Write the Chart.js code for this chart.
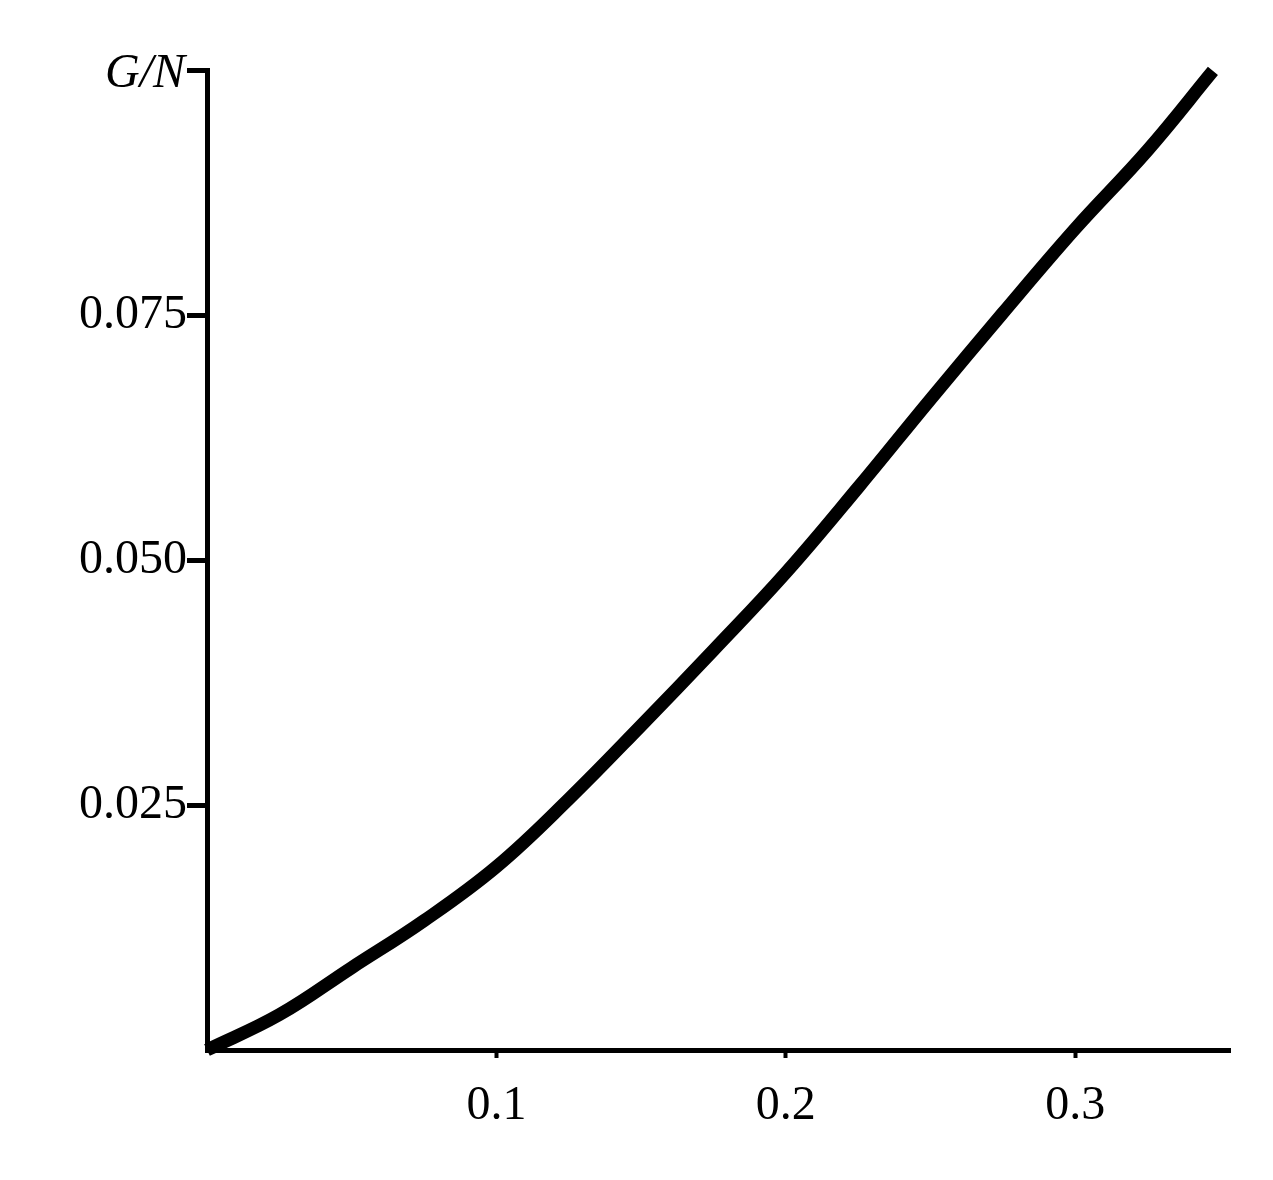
<!DOCTYPE html>
<html>
<head>
<meta charset="utf-8">
<script src="https://cdn.jsdelivr.net/npm/chart.js@4/dist/chart.umd.min.js"></script>
<style>
  html, body { margin: 0; padding: 0; background: #fff; }
</style>
</head>
<body>
<canvas id="chart" width="1273" height="1180"></canvas>
<script>
// curve
const tauValues = [0, 0.025, 0.05, 0.075, 0.1, 0.125, 0.15, 0.175, 0.2, 0.225, 0.25, 0.275, 0.3, 0.325, 0.3476];
const gnValues = [0, 0.0036, 0.0084, 0.0132, 0.0187, 0.0256, 0.0331, 0.0408, 0.0487, 0.0574, 0.0664, 0.0752, 0.0838, 0.0918, 0.0999];
const xTicks = [0.1, 0.2, 0.3];
const yTicks = [0.025, 0.05, 0.075, 0.1];

const points = tauValues.map((t, i) => ({ x: t, y: gnValues[i] }));

const axisLabels = {
    id: 'axisLabels',
    afterDraw(chart) {
        const ctx = chart.ctx;
        const x = chart.scales.x, y = chart.scales.y;
        ctx.save();
        ctx.fillStyle = '#000';
        ctx.font = 'italic 48px "Liberation Serif", serif';
        ctx.textAlign = 'right';
        ctx.textBaseline = 'middle';
        ctx.fillText('G/N', x.left - 22, y.getPixelForValue(0.1) + 4);
        ctx.textAlign = 'center';
        ctx.font = 'italic 58px "Liberation Serif", serif';
        ctx.fillText('τ', x.getPixelForValue(0.35), x.bottom + 50);
        ctx.restore();
    }
};

new Chart(document.getElementById('chart').getContext('2d'), {
    type: 'line',
    data: {
        datasets: [{
            data: points,
            borderColor: '#000',
            borderWidth: 13,
            pointRadius: 0,
            tension: 0.4,
            fill: false,
            clip: false
        }]
    },
    options: {
        responsive: false,
        animation: false,
        layout: { padding: { top: 70, right: 43, left: 0, bottom: 0 } },
        plugins: { legend: { display: false }, tooltip: { enabled: false } },
        scales: {
            x: {
                type: 'linear',
                min: 0,
                max: 0.3535,
                afterBuildTicks: s => { s.ticks = xTicks.map(v => ({ value: v })); },
                afterFit: s => { s.height = 130; },
                border: { display: true, color: '#000', width: 5 },
                grid: { drawOnChartArea: false, drawTicks: true, tickLength: 8, tickColor: '#000', tickWidth: 4 },
                ticks: {
                    color: '#000',
                    padding: 20,
                    font: { family: '"Liberation Serif", serif', size: 48 },
                    callback: v => v.toFixed(1)
                }
            },
            y: {
                type: 'linear',
                min: 0,
                max: 0.1,
                afterBuildTicks: s => { s.ticks = yTicks.map(v => ({ value: v })); },
                afterFit: s => { s.width = 207; },
                border: { display: true, color: '#000', width: 5 },
                grid: { drawOnChartArea: false, drawTicks: true, tickLength: 20, tickColor: '#000', tickWidth: 5 },
                ticks: {
                    color: '#000',
                    padding: 0,
                    font: { family: '"Liberation Serif", serif', size: 48 },
                    callback: v => v === 0.1 ? '' : v.toFixed(3)
                }
            }
        }
    },
    plugins: [axisLabels]
});
</script>
</body>
</html>
